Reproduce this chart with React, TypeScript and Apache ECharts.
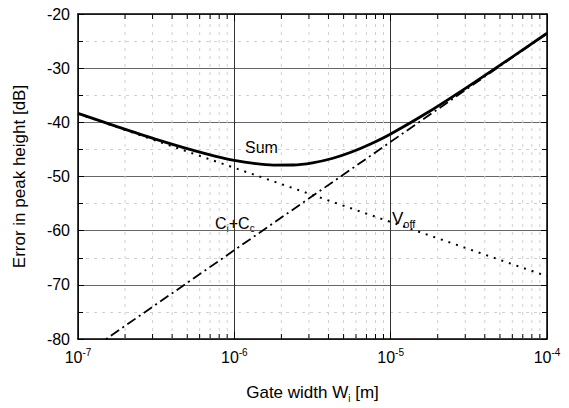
import React, { useEffect, useRef } from "react";
import * as echarts from "echarts";

// Gate width positions (m) and values (dB)
const sumX = [1e-7, 1.778e-7, 3.162e-7, 5.623e-7, 7.499e-7, 1e-6, 1.334e-6, 1.778e-6, 2.371e-6, 3.162e-6, 4.217e-6, 5.623e-6, 7.499e-6, 1e-5, 1.778e-5, 3.162e-5, 5.623e-5, 1e-4];
const sumY = [-38.35, -40.79, -43.14, -45.28, -46.22, -47.01, -47.59, -47.9, -47.88, -47.48, -46.68, -45.48, -43.95, -42.15, -37.96, -33.32, -28.48, -23.55];
const voffX = [1e-7, 1e-4];
const voffY = [-38.4, -68.4];
const ciccX = [1e-7, 1e-4];
const ciccY = [-83.6, -23.6];
const minorMantissa = [2, 3, 4, 5, 6, 7, 8, 9];
const minorX = [1e-7, 1e-6, 1e-5].flatMap((d) => minorMantissa.map((m) => m * d));

const FONT = "Liberation Sans, Arial, Helvetica, sans-serif";

export default function App() {
  const ref = useRef<HTMLDivElement>(null);
  useEffect(() => {
    if (!ref.current) return;
    const chart = echarts.init(ref.current, null, { renderer: "svg" });
    const expOf = (v: number) => String(Math.round(Math.log10(v)));
    const option: any = {
      animation: false,
      backgroundColor: "#ffffff",
      textStyle: { fontFamily: FONT, color: "#000" },
      grid: { left: 78, right: 22, top: 14, bottom: 65, containLabel: false },
      xAxis: [
        {
          type: "log",
          logBase: 10,
          min: 1e-7,
          max: 1e-4,
          position: "bottom",
          axisLine: { show: true, lineStyle: { color: "#000", width: 1.5 } },
          axisTick: { show: true, inside: true, length: 7, lineStyle: { color: "#000", width: 1 } },
          axisLabel: {
            show: true,
            margin: 8,
            formatter: (v: number) => "{b|10}{s|" + expOf(v) + "}",
            rich: {
              b: { fontSize: 16, fontFamily: FONT, color: "#000", lineHeight: 20 },
              s: { fontSize: 10, fontFamily: FONT, color: "#000", verticalAlign: "bottom", padding: [0, 0, 10, 0] },
            },
          },
          splitLine: { show: true, lineStyle: { color: "#333", width: 1 } },
          name: "{t|Gate width W}{i|i}{t| [m]}",
          nameLocation: "middle",
          nameGap: 42,
          nameTextStyle: {
            rich: {
              t: { fontSize: 17, fontFamily: FONT, color: "#000", lineHeight: 22 },
              i: { fontSize: 10, fontFamily: FONT, color: "#000", verticalAlign: "top", padding: [12, 0, 0, 0] },
            },
          },
        },
        {
          type: "log",
          logBase: 10,
          min: 1e-7,
          max: 1e-4,
          position: "top",
          axisLine: { show: true, lineStyle: { color: "#000", width: 1.5 } },
          axisTick: { show: true, inside: true, length: 7, lineStyle: { color: "#000", width: 1 } },
          axisLabel: { show: false },
          splitLine: { show: false },
        },
      ],
      yAxis: [
        {
          type: "value",
          min: -80,
          max: -20,
          interval: 10,
          position: "left",
          axisLine: { show: true, lineStyle: { color: "#000", width: 1.5 } },
          axisTick: { show: true, inside: true, length: 6, lineStyle: { color: "#000" } },
          minorTick: { show: true, splitNumber: 2, length: 5, lineStyle: { color: "#000" } },
          axisLabel: { show: true, fontSize: 16, fontFamily: FONT, color: "#000", margin: 8 },
          splitLine: { show: true, lineStyle: { color: "#666", width: 1 } },
          minorSplitLine: { show: true, lineStyle: { color: "#d0d0d0", width: 1, type: [3, 5] } },
          name: "Error in peak height [dB]",
          nameLocation: "middle",
          nameGap: 50,
          nameRotate: 90,
          nameTextStyle: { fontSize: 17, fontFamily: FONT, color: "#000" },
        },
        {
          type: "value",
          min: -80,
          max: -20,
          interval: 10,
          position: "right",
          axisLine: { show: true, lineStyle: { color: "#000", width: 1.5 } },
          axisTick: { show: true, inside: true, length: 6, lineStyle: { color: "#000" } },
          minorTick: { show: true, splitNumber: 2, length: 5, lineStyle: { color: "#000" } },
          axisLabel: { show: false },
          splitLine: { show: false },
        },
      ],
      series: [
        {
          type: "custom",
          name: "minor",
          silent: true,
          xAxisIndex: 0,
          yAxisIndex: 0,
          clip: false,
          z: 1,
          data: minorX.map((v) => [v, -50]),
          renderItem: (params: any, api: any) => {
            const x = api.value(0);
            const pb = api.coord([x, -80]);
            const pt = api.coord([x, -20]);
            return {
              type: "group",
              children: [
                {
                  type: "line",
                  shape: { x1: pb[0], y1: pb[1], x2: pt[0], y2: pt[1] },
                  style: { stroke: "#d0d0d0", lineWidth: 1, lineDash: [3, 5] },
                },
                {
                  type: "line",
                  shape: { x1: pb[0], y1: pb[1], x2: pb[0], y2: pb[1] - 5 },
                  style: { stroke: "#000", lineWidth: 1 },
                },
                {
                  type: "line",
                  shape: { x1: pt[0], y1: pt[1], x2: pt[0], y2: pt[1] + 5 },
                  style: { stroke: "#000", lineWidth: 1 },
                },
              ],
            };
          },
        },
        {
          type: "line",
          name: "Sum",
          data: sumX.map((x, i) => [x, sumY[i]]),
          showSymbol: false,
          smooth: 0.3,
          lineStyle: { color: "#000", width: 2.8 },
          z: 5,
        },
        {
          type: "line",
          name: "Voff",
          data: voffX.map((x, i) => [x, voffY[i]]),
          showSymbol: false,
          lineStyle: { color: "#000", width: 2, type: [2, 6] },
          z: 4,
        },
        {
          type: "line",
          name: "Ci+Cc",
          data: ciccX.map((x, i) => [x, ciccY[i]]),
          showSymbol: false,
          clip: true,
          lineStyle: { color: "#000", width: 1.8, type: [10, 4, 2, 4] },
          z: 4,
        },
      ],
      graphic: [
        {
          type: "text",
          left: 245,
          top: 139,
          style: { text: "Sum", font: "16px " + FONT, fill: "#000" },
        },
        {
          type: "text",
          left: 215,
          top: 215,
          style: {
            text: "{t|C}{i|i}{t|+C}{i|c}",
            rich: {
              t: { fontSize: 16, fontFamily: FONT, fill: "#000", lineHeight: 20 },
              i: { fontSize: 10, fontFamily: FONT, fill: "#000", verticalAlign: "top", padding: [10, 0, 0, 0] },
            },
          },
        },
        {
          type: "text",
          left: 392,
          top: 210,
          style: {
            text: "{t|V}{i|off}",
            rich: {
              t: { fontSize: 17, fontFamily: FONT, fill: "#000", lineHeight: 20 },
              i: { fontSize: 11, fontFamily: FONT, fill: "#000", verticalAlign: "top", padding: [11, 0, 0, 0] },
            },
          },
        },
      ],
    };
    chart.setOption(option);
    return () => chart.dispose();
  }, []);
  return <div ref={ref} style={{ width: 569, height: 408, position: "absolute", left: 0, top: 0 }} />;
}
